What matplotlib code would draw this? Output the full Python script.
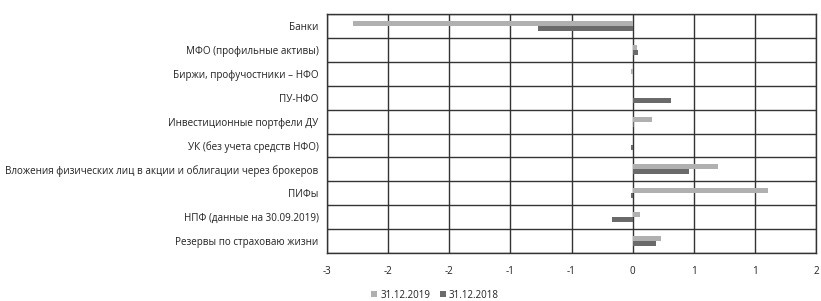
import matplotlib
matplotlib.use("Agg")
import matplotlib.pyplot as plt
from matplotlib.ticker import MultipleLocator, FuncFormatter
import numpy as np
import math

categories = [
    "Банки",
    "МФО (профильные активы)",
    "Биржи, профучостники – НФО",
    "ПУ-НФО",
    "Инвестиционные портфели ДУ",
    "УК (без учета средств НФО)",
    "Вложения физических лиц в акции и облигации через брокеров",
    "ПИФы",
    "НПФ (данные на 30.09.2019)",
    "Резервы по страховаю жизни",
]
vals_2019 = [-2.29, 0.035, -0.01, 0.005, 0.16, 0.0, 0.70, 1.11, 0.06, 0.23]
vals_2018 = [-0.77, 0.04, 0.0, 0.31, 0.01, -0.01, 0.46, -0.01, -0.17, 0.19]
series_names = ["31.12.2019", "31.12.2018"]

plt.rcParams['font.family'] = ['Open Sans', 'DejaVu Sans']

fig = plt.figure(figsize=(8.21, 3.01), dpi=100)
ax = fig.add_axes([327 / 821, 1 - 253 / 301, (816 - 327) / 821, (253 - 14) / 301])

y = np.arange(len(categories))
h = 0.21
ax.barh(y - h / 2, vals_2019, height=h, color='#b0b0b0', label=series_names[0], zorder=3)
ax.barh(y + h / 2, vals_2018, height=h, color='#6a6a6a', label=series_names[1], zorder=3)

ax.set_xlim(-2.5, 1.5)
ax.set_ylim(len(categories) - 0.5, -0.5)
ax.xaxis.set_major_locator(MultipleLocator(0.5))


def round_half(v, pos):
    # Excel-style rounding of the 0.5 steps to whole numbers
    r = int(math.copysign(math.floor(abs(v) + 0.5), v))
    return str(r)


ax.xaxis.set_major_formatter(FuncFormatter(round_half))
ax.set_yticks(y)
ax.set_yticklabels(categories)
ax.set_yticks(np.arange(len(categories) + 1) - 0.5, minor=True)
ax.grid(True, axis='x', which='major', color='#333333', linewidth=1.0, zorder=1)
ax.grid(True, axis='y', which='minor', color='#333333', linewidth=1.0, zorder=1)
ax.tick_params(axis='both', which='both', length=0, labelsize=7.1, colors='#222222')
ax.tick_params(axis='x', pad=9)
ax.tick_params(axis='y', pad=6)
for s in ax.spines.values():
    s.set_color('#333333')
    s.set_linewidth(1.0)

fig.legend(loc='center', bbox_to_anchor=(435 / 821, 1 - 295 / 301), ncol=2, frameon=False,
           fontsize=7, handlelength=0.6, handleheight=0.6, handletextpad=0.3, columnspacing=1.0,
           labelcolor='#222222')

fig.savefig("out.png", dpi=100)
